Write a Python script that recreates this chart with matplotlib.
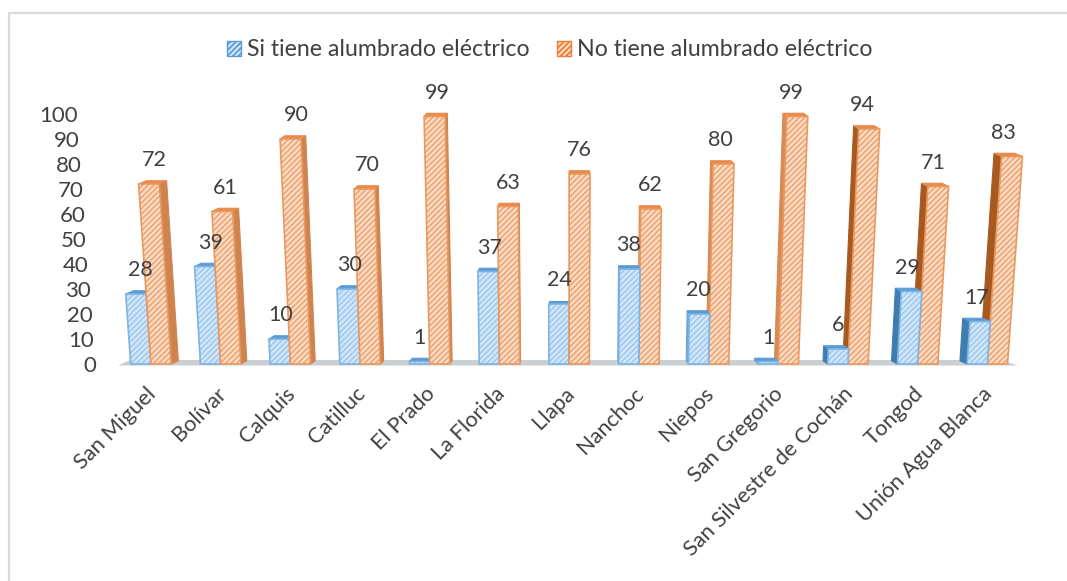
import matplotlib
matplotlib.use("Agg")
import matplotlib.pyplot as plt
from matplotlib.lines import Line2D
from matplotlib.patches import Patch, Polygon
from matplotlib.transforms import ScaledTranslation

categories = ["San Miguel", "Bolívar", "Calquis", "Catilluc", "El Prado", "La Florida", "Llapa",
              "Nanchoc", "Niepos", "San Gregorio", "San Silvestre de Cochán", "Tongod", "Unión Agua Blanca"]
si_tiene = [28, 39, 10, 30, 1, 37, 24, 38, 20, 1, 6, 29, 17]
no_tiene = [72, 61, 90, 70, 99, 63, 76, 62, 80, 99, 94, 71, 83]
y_ticks = [0, 10, 20, 30, 40, 50, 60, 70, 80, 90, 100]
series_names = ["Si tiene alumbrado eléctrico", "No tiene alumbrado eléctrico"]

plt.rcParams['font.family'] = ['Lato', 'DejaVu Sans']
plt.rcParams['hatch.linewidth'] = 1.3
textColor = '#404040'
W, H = 1067, 581
center = 6.0      # column that stands straight
lean = 0.00041
barW = 0.29
depthX = 0.018
depthY = 1.3


def shift(x, v, back=False):
    # fake perspective: columns fan out from the middle of the chart
    px = x + (x - center) * lean * v
    if back:
        px -= (x - center) * depthX
        v = v + depthY
    return (px, v)


def drawBar(ax, x0, v, face, hatchColor, edgeColor, sideColor, topColor, z):
    x1 = x0 + barW
    sideX = x1 if x0 + barW / 2 < center else x0
    side = [shift(sideX, 0), shift(sideX, v), shift(sideX, v, True), shift(sideX, 0, True)]
    top = [shift(x0, v), shift(x1, v), shift(x1, v, True), shift(x0, v, True)]
    ax.add_patch(Polygon(side, closed=True, facecolor=sideColor, edgecolor=sideColor, lw=0.8, zorder=z, clip_on=False))
    ax.add_patch(Polygon(top, closed=True, facecolor=topColor, edgecolor=topColor, lw=0.8, zorder=z, clip_on=False))
    front = [shift(x0, 0), shift(x1, 0), shift(x1, v), shift(x0, v)]
    ax.add_patch(Polygon(front, closed=True, facecolor=face, edgecolor=hatchColor, hatch='//////', lw=0, zorder=z + 0.1, clip_on=False))
    ax.add_patch(Polygon(front, closed=True, fill=False, edgecolor=edgeColor, lw=1.2, zorder=z + 0.2, clip_on=False))


fig = plt.figure(figsize=(W / 100, H / 100), dpi=100)
# frame of the original screenshot: only top and left edges show
fig.add_artist(Line2D([8.5 / W, 8.5 / W, 1], [0, 1 - 12.5 / H, 1 - 12.5 / H], color='#d9d9d9', lw=1.6))
ax = fig.add_axes([118 / W, (H - 364) / H, 900 / W, 250 / H])
ax.set_xlim(-0.473, 12.44)
ax.set_ylim(0, 100)
ax.patch.set_alpha(0)
for s in ax.spines.values():
    s.set_visible(False)

# floor
ax.add_patch(Polygon([(-0.47, -0.6), (12.44, -0.6), (12.2, 1.6), (-0.3, 1.6)], closed=True,
                     facecolor='#c9cfd3', edgecolor='none', zorder=0, clip_on=False))

for i in range(len(categories)):
    right = i > center
    blueZ = 3 if not right else 5
    orangeZ = 5 if not right else 3
    if i >= 10:
        blueSide, orangeSide = '#3f7cb0', '#a8591f'
    elif right:
        blueSide, orangeSide = '#6fa5d6', '#d98a52'
    else:
        blueSide, orangeSide = '#7fb0dc', '#cf8450'
    drawBar(ax, i - barW, si_tiene[i], '#d4e8fa', '#a3cbee', '#7fb3e2', blueSide, '#5b9bd5', blueZ)
    drawBar(ax, i, no_tiene[i], '#fcdfca', '#efa877', '#e9995f', orangeSide, '#e98a4c', orangeZ)
    ax.annotate(str(si_tiene[i]), (i - barW / 2, si_tiene[i]), xytext=(0, 17), textcoords='offset points',
                ha='center', va='center', fontsize=15.5, color=textColor, zorder=10, annotation_clip=False)
    ax.annotate(str(no_tiene[i]), (i + barW / 2 + (i - center) * 0.015, no_tiene[i]), xytext=(0, 17),
                textcoords='offset points', ha='center', va='center', fontsize=15.5, color=textColor,
                zorder=10, annotation_clip=False)

ax.set_xticks(range(len(categories)))
ax.set_xticklabels(categories, rotation=45, ha='right', rotation_mode='anchor', fontsize=15.7, color=textColor)
ax.tick_params(axis='x', length=0, pad=14)
for label in ax.get_xticklabels():
    label.set_transform(label.get_transform() + ScaledTranslation(-0.05, 0, fig.dpi_scale_trans))
ax.set_yticks(y_ticks)
ax.set_yticklabels([str(t) for t in y_ticks], fontsize=16, color=textColor)
ax.tick_params(axis='y', length=0, pad=0)
for t, label in zip(y_ticks, ax.get_yticklabels()):
    # labels follow the slanted wall of the 3D chart
    off = (-22 - 0.18 * t) / 100
    label.set_transform(label.get_transform() + ScaledTranslation(off, 0, fig.dpi_scale_trans))

handles = [Patch(facecolor='#d4e8fa', edgecolor='#5b9bd5', hatch='//////', lw=1.0),
           Patch(facecolor='#fcdfca', edgecolor='#ed7d31', hatch='//////', lw=1.0)]
fig.legend(handles, series_names, loc='center', bbox_to_anchor=(550 / W, 1 - 50 / H), ncol=2, frameon=False,
           fontsize=16.7, labelcolor=textColor, handlelength=0.6, handleheight=0.6, handletextpad=0.25, columnspacing=1.2)

fig.savefig("out.png", dpi=100)
